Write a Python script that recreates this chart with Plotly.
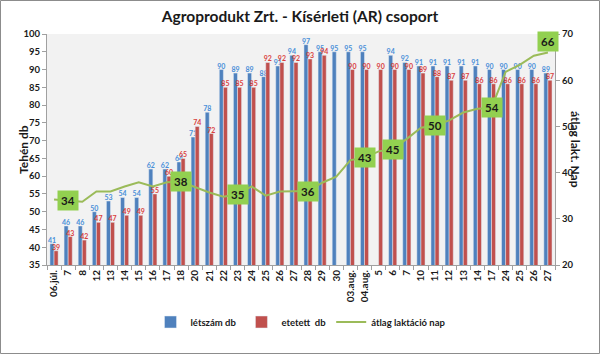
import plotly.graph_objects as go

# ---- data ----
categories = ["06.júl.", "7", "8", "12", "13", "14", "15", "16", "17", "18", "20", "21",
              "22", "23", "24", "25", "26", "27", "28", "29", "30", "03.aug.", "04.aug.",
              "5", "6", "7", "10", "11", "12", "13", "14", "17", "24", "25", "26", "27"]
letszam = [41, 46, 46, 50, 53, 54, 54, 62, 62, 64, 71, 78, 90, 89, 89, 88, 91, 94, 97, 95,
           95, 95, 95, None, 94, 92, 91, 91, 91, 91, 91, 90, 90, 90, 90, 89]
etetett = [39, 43, 42, 47, 47, 49, 49, 55, 60, 65, 74, 72, 85, 85, 85, 92, 92, 92, 93, 94,
           None, 90, 90, 90, 90, 90, 89, 88, 87, 87, 86, 86, 86, 86, 86, 87]
atlag_lakt = [34.2, 34.0, 33.7, 35.9, 35.9, 37.0, 37.9, 37.0, 37.9, 38.0, 36.8, 35.7,
              34.8, 35.3, 37.0, 35.0, 35.9, 36.0, 36.0, 37.8, 39.1, 42.7, 43.2, 44.6,
              45.1, 47.3, 49.7, 50.2, 51.3, 53.0, 53.8, 54.0, 61.8, 63.3, 65.3, 66.0]
label_idx = [1, 9, 13, 18, 22, 24, 27, 31, 35]
left_ticks = list(range(35, 101, 5))
right_ticks = list(range(20, 71, 10))

W, H = 600, 354
ML, MR, MT, MB = 47, 45, 34, 89
FONT = "Lato"

x = list(range(len(categories)))

fig = go.Figure()
fig.add_trace(go.Bar(
    x=x, y=letszam, name="létszám db", marker_color="#4F81BD",
    text=[("" if v is None else str(v)) for v in letszam], textposition="outside",
    textfont=dict(size=7, color="#4A90D9", family=FONT, weight="bold"),
    constraintext="none", cliponaxis=False))
fig.add_trace(go.Bar(
    x=x, y=etetett, name="etetett  db", marker_color="#C0504D",
    text=[("" if v is None else str(v)) for v in etetett], textposition="outside",
    textfont=dict(size=7, color="#D9413E", family=FONT, weight="bold"),
    constraintext="none", cliponaxis=False))
fig.add_trace(go.Scatter(
    x=x, y=atlag_lakt, name="átlag laktáció nap", mode="lines",
    line=dict(color="#9BBB59", width=2), yaxis="y2"))

for i in label_idx:
    fig.add_annotation(
        x=i, y=atlag_lakt[i], yref="y2", text=f"<b>{round(atlag_lakt[i])}</b>",
        showarrow=False, bgcolor="#92D050", borderpad=3,
        yshift=(11 if i == label_idx[-1] else 0),
        font=dict(size=11.5, color="#1a1a1a", family=FONT))

# axis titles
fig.add_annotation(xref="paper", yref="paper", x=-33 / (W - ML - MR), y=0.5,
                   text="<b>Tehén db</b>", textangle=-90, showarrow=False,
                   font=dict(size=12, color="#1a1a1a", family=FONT))
fig.add_annotation(xref="paper", yref="paper", x=1 + 30 / (W - ML - MR), y=0.5,
                   text="<b>átlag lakt. Nap</b>", textangle=90, showarrow=False,
                   font=dict(size=12, color="#1a1a1a", family=FONT))

pw, ph = W - ML - MR, H - MT - MB
fig.add_shape(type="rect", xref="paper", yref="paper",
              x0=-(ML - 0.5) / pw, x1=1 + (MR - 0.5) / pw,
              y0=-(MB - 0.5) / ph, y1=1 + (MT - 0.5) / ph,
              line=dict(color="#8C8C8C", width=1), layer="below")

fig.update_layout(
    width=W, height=H, margin=dict(l=ML, r=MR, t=MT, b=MB),
    paper_bgcolor="white", plot_bgcolor="#F2F2F2",
    barmode="group", bargap=0.42, bargroupgap=0,
    title=dict(text="<b>Agroprodukt Zrt. - Kísérleti (AR) csoport</b>", x=0.5, xanchor="center",
               y=1 - 17 / H, yanchor="middle", font=dict(size=15.5, color="#1a1a1a", family=FONT)),
    font=dict(family=FONT, color="#1a1a1a"),
    showlegend=True,
    legend=dict(orientation="h", x=0.5, xanchor="center", y=-(322 - (H - MB)) / ph,
                yanchor="middle", font=dict(size=9.5, family=FONT, weight="bold"),
                itemwidth=30, tracegroupgap=0),
    xaxis=dict(range=[-0.5, len(categories) - 0.5], tickvals=x, ticktext=categories,
               tickangle=-90, ticks="", showgrid=False, zeroline=False,
               showline=True, linecolor="#A0A0A0", linewidth=1,
               tickfont=dict(size=10, family=FONT, weight="bold"),
               minor=dict(tickvals=[i - 0.5 for i in range(len(categories) + 1)],
                          ticks="outside", ticklen=4, tickcolor="#A0A0A0", showgrid=False)),
    yaxis=dict(range=[35, 100], tickvals=left_ticks, showgrid=False, zeroline=False,
               showline=True, linecolor="#A0A0A0", ticks="outside", ticklen=4,
               tickcolor="#A0A0A0", tickfont=dict(size=9.5, family=FONT, weight="bold")),
    yaxis2=dict(range=[20, 70], tickvals=right_ticks, overlaying="y", side="right",
                showgrid=False, zeroline=False, showline=True, linecolor="#A0A0A0",
                ticks="outside", ticklen=4, tickcolor="#A0A0A0",
                tickfont=dict(size=9.5, family=FONT, weight="bold")),
)

fig.write_html("out.html")
